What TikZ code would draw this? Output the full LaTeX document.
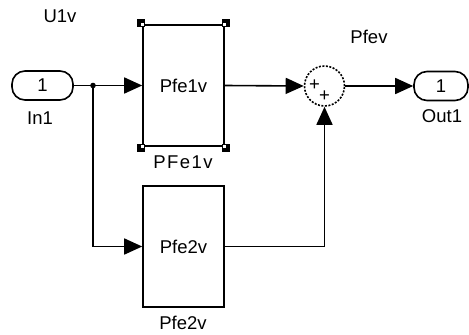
\documentclass[tikz,border=0pt]{standalone}
\usepackage{fontspec}
\setmainfont{Liberation Sans}
\usetikzlibrary{arrows.meta, positioning, calc}

\begin{document}
\begin{tikzpicture}[
  x=1pt, y=-1pt,
  >={Triangle[length=18pt, width=16pt]},
  every node/.style={font=\fontsize{18.5}{20}\selectfont},
  sig/.style={line width=1.6pt},
  port/.style={draw, line width=1.6pt, rounded corners=13pt, minimum height=29pt, inner sep=0pt},
  blk/.style={draw, line width=1.6pt, minimum width=81pt, minimum height=121pt, inner sep=0pt},
  sumblk/.style={draw, circle, dash pattern=on 2pt off 1.5pt, line width=1.6pt, minimum size=40pt, inner sep=0pt},
]
  \useasboundingbox (0,0) rectangle (469,335);

  % ports
  \node[port, minimum width=61pt] (in1) at (42.5,85.5) {1};
  \node (in1lbl) at (40,118) {In1};
  \node (u1v) at (60,16) {U1v};
  \node[port, minimum width=54pt] (out1) at (441,86) {1};
  \node (out1lbl) at (442,116) {Out1};

  % blocks
  \node[blk] (pfe1) at (183.5,85.5) {Pfe1v};
  \node (pfe1lbl) at (183,162) {\addfontfeature{LetterSpace=8}PFe1v};
  \node[blk] (pfe2) at (183.5,246.5) {Pfe2v};
  \node (pfe2lbl) at (183,323) {Pfe2v};

  % selection handles
  \foreach \c/\dx/\dy in {north west/-1/-1, north east/1/-1, south west/-1/1, south east/1/1} {
    \fill ($(pfe1.\c)+(5*\dx,5*\dy)$) rectangle ($(pfe1.\c)+(-2.5*\dx,-2.5*\dy)$);
    \fill[white] ($(pfe1.\c)+(0.8*\dx,0.8*\dy)$) rectangle ($(pfe1.\c)+(-2.2*\dx,-2.2*\dy)$);
  }

  % sum
  \node[sumblk] (sum) at (324.5,86) {};
  \node[inner sep=0pt] (plus1) at ($(sum.center)+(-10,-1)$) {+};
  \node[inner sep=0pt] (plus2) at ($(sum.center)+(0,10)$) {+};
  \node (pfev) at (369,37) {Pfev};

  % signals
  \coordinate (jn) at (93,85.5);
  \fill (jn) circle (2.8pt);
  \draw[sig] (in1.east) -- (jn);
  \draw[sig, ->] (jn) -- (pfe1.west);
  \draw[sig, ->] (jn) |- (pfe2.west);
  \draw[sig, ->] (pfe1.east) -- (sum.west);
  \draw[sig, ->] (pfe2.east) -| (sum.south);
  \draw[sig, ->] (sum.east) -- (out1.west);
\end{tikzpicture}
\end{document}
